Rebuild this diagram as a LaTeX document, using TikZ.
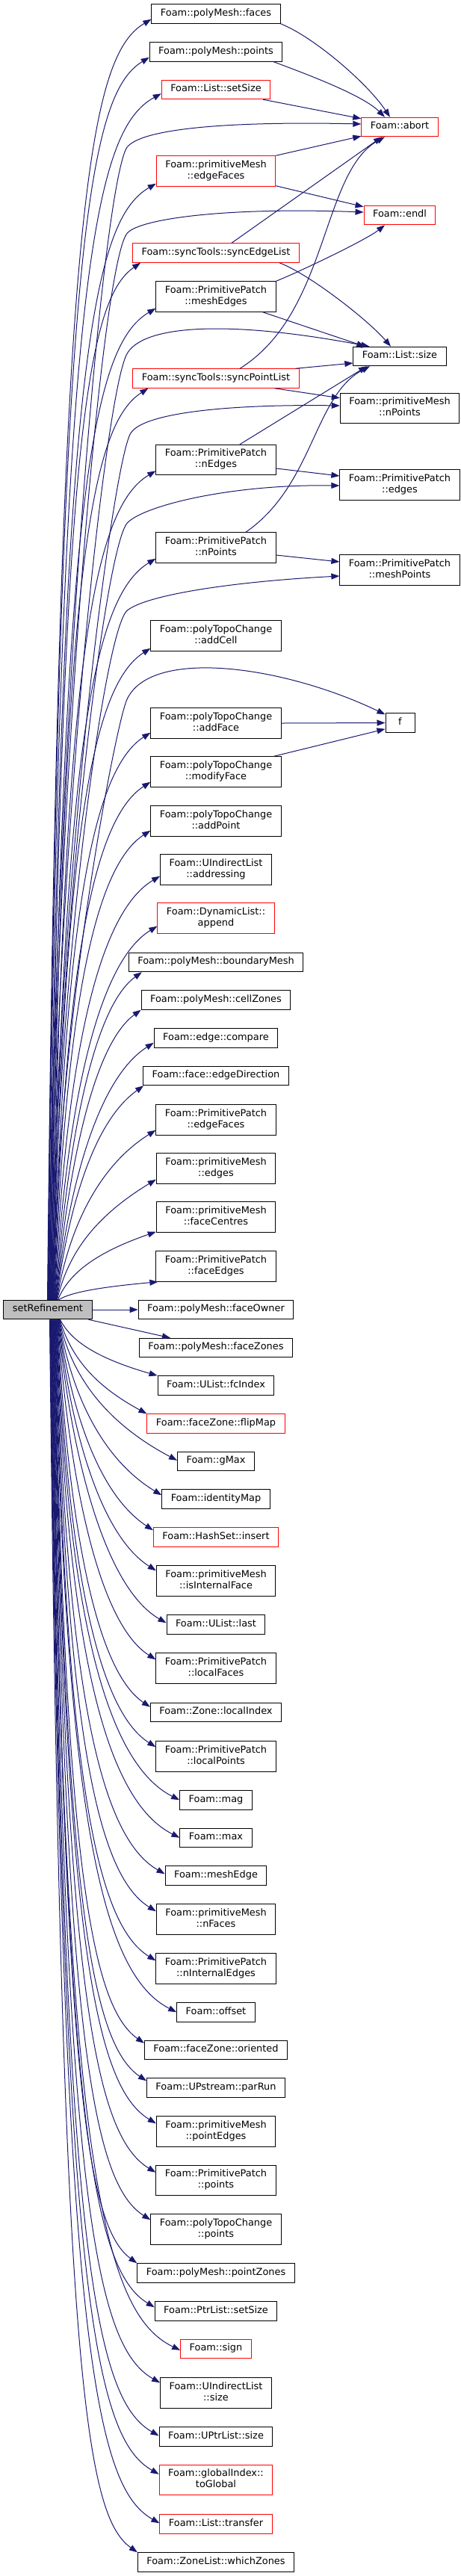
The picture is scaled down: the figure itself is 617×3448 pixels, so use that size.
\documentclass[tikz,border=0pt]{standalone}
\usepackage{fontspec}
\setmainfont{DejaVu Sans}
\usetikzlibrary{arrows.meta,calc}
\definecolor{edgeblue}{HTML}{191970}
\definecolor{srgray}{HTML}{BFBFBF}
\begin{document}
\begin{tikzpicture}[x=1pt,y=-1pt,
  box/.style={draw=black, line width=1pt, fill=white, font=\fontsize{12.9pt}{14.7pt}\selectfont, inner xsep=12pt, inner ysep=1pt, minimum height=25.5pt, align=center, execute at begin node=\strut},
  boxtwo/.style={box, minimum height=40.5pt},
  hot/.style={draw=red},
  edge/.style={draw=edgeblue, line width=1pt, -{Triangle[length=11pt,width=8pt]}}]
\path[fill=white, use as bounding box] (0,0) rectangle (617,3448);

% main node
\node[box, fill=srgray] (sr) at (64,1753) {setRefinement};

% right column
\node[box,hot] (abort) at (535,170) {Foam::abort};
\node[box,hot] (endl) at (535,288) {Foam::endl};
\node[box] (lsize) at (535,477) {Foam::List::size};
\node[boxtwo] (pmnpoints) at (535,546.5) {Foam::primitiveMesh\\\strut ::nPoints};
\node[boxtwo] (ppedges) at (535,649) {Foam::PrimitivePatch\\\strut ::edges};
\node[boxtwo] (meshpoints) at (535,763) {Foam::PrimitivePatch\\\strut ::meshPoints};
\node[box, minimum width=39pt] (f) at (535.5,967.5) {f};

% middle column, above
\node[box] (faces) at (289,18.5) {Foam::polyMesh::faces};
\node[box] (pts) at (289,69.5) {Foam::polyMesh::points};
\node[box,hot] (lsetsize) at (289,120) {Foam::List::setSize};
\node[boxtwo,hot] (pmedgefaces) at (289,229) {Foam::primitiveMesh\\\strut ::edgeFaces};
\node[box,hot] (sel) at (289,338.5) {Foam::syncTools::syncEdgeList};
\node[boxtwo] (meshedges) at (289,397) {Foam::PrimitivePatch\\\strut ::meshEdges};
\node[box,hot] (spl) at (289,506.5) {Foam::syncTools::syncPointList};
\node[boxtwo] (nedges) at (289,615.5) {Foam::PrimitivePatch\\\strut ::nEdges};
\node[boxtwo] (ppnpoints) at (289,733) {Foam::PrimitivePatch\\\strut ::nPoints};
\node[boxtwo] (addcell) at (289,851) {Foam::polyTopoChange\\\strut ::addCell};
\node[boxtwo] (addface) at (289,968) {Foam::polyTopoChange\\\strut ::addFace};
\node[boxtwo] (modifyface) at (289,1033) {Foam::polyTopoChange\\\strut ::modifyFace};
\node[boxtwo] (addpoint) at (289,1099) {Foam::polyTopoChange\\\strut ::addPoint};
\node[boxtwo] (addressing) at (289,1164) {Foam::UIndirectList\\\strut ::addressing};
\node[boxtwo,hot] (append) at (289,1229) {Foam::DynamicList::\\\strut append};
\node[box] (boundarymesh) at (289,1288) {Foam::polyMesh::boundaryMesh};
\node[box] (cellzones) at (289,1338.5) {Foam::polyMesh::cellZones};
\node[box] (compare) at (289,1389.5) {Foam::edge::compare};
\node[box] (edgedir) at (289,1440) {Foam::face::edgeDirection};
\node[boxtwo] (ppedgefaces) at (289,1499) {Foam::PrimitivePatch\\\strut ::edgeFaces};
\node[boxtwo] (pmedges) at (289,1564) {Foam::primitiveMesh\\\strut ::edges};
\node[boxtwo] (facecentres) at (289,1629) {Foam::primitiveMesh\\\strut ::faceCentres};
\node[boxtwo] (faceedges) at (289,1695) {Foam::PrimitivePatch\\\strut ::faceEdges};

% middle column, below
\node[box] (faceowner) at (289,1753) {Foam::polyMesh::faceOwner};
\node[box] (facezones) at (289,1804) {Foam::polyMesh::faceZones};
\node[box] (fcindex) at (289,1854.5) {Foam::UList::fcIndex};
\node[box,hot] (flipmap) at (289,1905.5) {Foam::faceZone::flipMap};
\node[box] (gmax) at (289,1956) {Foam::gMax};
\node[box] (identitymap) at (289,2006.5) {Foam::identityMap};
\node[box,hot] (insert) at (289,2057.5) {Foam::HashSet::insert};
\node[boxtwo] (isinternal) at (289,2116) {Foam::primitiveMesh\\\strut ::isInternalFace};
\node[box] (last) at (289,2174.5) {Foam::UList::last};
\node[boxtwo] (localfaces) at (289,2233) {Foam::PrimitivePatch\\\strut ::localFaces};
\node[box] (localindex) at (289,2292) {Foam::Zone::localIndex};
\node[boxtwo] (localpoints) at (289,2351) {Foam::PrimitivePatch\\\strut ::localPoints};
\node[box] (mag) at (289,2409.5) {Foam::mag};
\node[box] (max) at (289,2460) {Foam::max};
\node[box] (meshedge) at (289,2510.5) {Foam::meshEdge};
\node[boxtwo] (nfaces) at (289,2569) {Foam::primitiveMesh\\\strut ::nFaces};
\node[boxtwo] (ninternal) at (289,2635) {Foam::PrimitivePatch\\\strut ::nInternalEdges};
\node[box] (offset) at (289,2693.5) {Foam::offset};
\node[box] (oriented) at (289,2744) {Foam::faceZone::oriented};
\node[box] (parrun) at (289,2794.5) {Foam::UPstream::parRun};
\node[boxtwo] (pointedges) at (289,2853) {Foam::primitiveMesh\\\strut ::pointEdges};
\node[boxtwo] (pppoints) at (289,2918.5) {Foam::PrimitivePatch\\\strut ::points};
\node[boxtwo] (ptcpoints) at (289,2984) {Foam::polyTopoChange\\\strut ::points};
\node[box] (pointzones) at (289,3042.5) {Foam::polyMesh::pointZones};
\node[box] (ptrsetsize) at (289,3093.5) {Foam::PtrList::setSize};
\node[box,hot] (sign) at (289,3144) {Foam::sign};
\node[boxtwo] (uilsize) at (289,3203) {Foam::UIndirectList\\\strut ::size};
\node[box] (uptrsize) at (289,3261.5) {Foam::UPtrList::size};
\node[boxtwo,hot] (toglobal) at (289,3319.5) {Foam::globalIndex::\\\strut toGlobal};
\node[box,hot] (transfer) at (289,3378.5) {Foam::List::transfer};
\node[box] (whichzones) at (289,3429.5) {Foam::ZoneList::whichZones};

% edges from setRefinement upwards to the middle column
\foreach \nm/\xo/\yo/\sx in {faces/0/6/59, pts/0/6/59.5, lsetsize/0/8/60, pmedgefaces/0/4/61,
  sel/11/0/62, meshedges/0/5/63, spl/21/0/64, nedges/0/6/65, ppnpoints/0/6/66,
  addcell/0/4/66.5, addface/0/8/67, modifyface/0/7/67.5, addpoint/0/8/68,
  addressing/0/12/68.5, append/0/10/69, boundarymesh/18/0/69.5, cellzones/0/0/70,
  compare/0/7/70.5, edgedir/1/0/71, ppedgefaces/0/7/71.5, pmedges/0/6/72,
  facecentres/0/1/73, faceedges/3/0/74}{
  \draw[edge] let \p1=([xshift=\sx pt]sr.north west), \p2=([xshift=\xo pt,yshift=\yo pt]\nm.south west),
    \n1={\y2-(\y1)}, \n2={\x2-(\x1)}, \n3={min(0.6*\n1,250)}, \n4={min(0.3*\n1,50)} in
    (\p1) .. controls (\x1+15pt,\y2-\n3) and (\x2-0.6*\n2,\y2-\n4) .. (\p2);
}

% edges from setRefinement downwards
\draw[edge] (sr.east) -- (faceowner.west);
\draw[edge] ([xshift=-5pt]sr.south east) -- ([xshift=42pt]facezones.north west);
\foreach \nm/\yo/\sx in {fcindex/0/76, flipmap/0/75.5, gmax/12/75, identitymap/8/74.5,
  insert/4/74, isinternal/7/73.5, last/11/73, localfaces/9/72.5, localindex/6/72,
  localpoints/8/71.5, mag/13/71, max/13/70.5, meshedge/11/70, nfaces/10/69.5,
  ninternal/10/69, offset/13/68.5, oriented/4/68, parrun/4/67.5, pointedges/10/67,
  pppoints/10/66.5, ptcpoints/8/66, pointzones/0/65.5, ptrsetsize/8/65, sign/15/64.5,
  uilsize/7/64, uptrsize/12/63.5, toglobal/13/63, transfer/12/62.5, whichzones/0/62}{
  \draw[edge] let \p1=([xshift=\sx pt]sr.south west), \p2=([yshift=-\yo pt]\nm.north west),
    \n1={\y1-(\y2)}, \n2={\x2-(\x1)}, \n3={min(0.6*\n1,250)}, \n4={min(0.3*\n1,50)} in
    (\p1) .. controls (\x1+15pt,\y2+\n3) and (\x2-0.6*\n2,\y2+\n4) .. (\p2);
}

% edges from setRefinement arching over to the right column
\draw[edge] ([xshift=60.5pt]sr.north west) .. controls +(8,-700) and +(-36,81) .. ($(abort.west)+(-315,30)$)
  .. controls +(12,-27) and +(-185,-4) .. ([yshift=4pt]abort.west);
\draw[edge] ([xshift=61.5pt]sr.north west) .. controls +(8,-650) and +(-36,51) .. ($(endl.west)+(-317,25)$)
  .. controls +(14,-20) and +(-185,-7) .. ([yshift=4pt]endl.west);
\draw[edge] ([xshift=62.5pt]sr.north west) .. controls +(8,-600) and +(-30,60) .. ($(lsize.north west)+(-303,11)$)
  .. controls +(20,-40) and +(-190,-36) .. ([xshift=22pt]lsize.north west);
\draw[edge] ([xshift=63.5pt]sr.north west) .. controls +(8,-550) and +(-24,40) .. ($(pmnpoints.west)+(-280,33.5)$)
  .. controls +(18,-30) and +(-130,-2) .. ([yshift=3.5pt]pmnpoints.west);
\draw[edge] ([xshift=64.5pt]sr.north west) .. controls +(8,-500) and +(-30,33) .. ($(ppedges.west)+(-284,51)$)
  .. controls +(20,-22) and +(-150,-2) .. ([yshift=-1pt]ppedges.west);
\draw[edge] ([xshift=65.5pt]sr.north west) .. controls +(8,-450) and +(-30,24) .. ($(meshpoints.west)+(-284,54)$)
  .. controls +(25,-20) and +(-150,8) .. ([yshift=-8pt]meshpoints.west);
\draw[edge] ([xshift=66pt]sr.north west) .. controls +(8,-380) and +(-15,35) .. ($(f.north west)+(-346,-17)$)
  .. controls +(30,-70) and +(-140,-67) .. ([yshift=-2pt]f.north west);

% edges between middle and right column
\draw[edge] (faces.south east) .. controls +(45,18) and +(-30,-45) .. ([xshift=-13pt]abort.north);
\draw[edge] ([xshift=-12pt]pts.south east) .. controls +(40,15) and +(-30,-30) .. ([xshift=-20pt]abort.north);
\draw[edge] ([xshift=-10pt]lsetsize.south east) -- ([yshift=-2pt]abort.north west);
\draw[edge] (pmedgefaces.north east) -- ([yshift=1pt]abort.south west);
\draw[edge] ([yshift=1pt]pmedgefaces.south east) -- ([yshift=-2pt]endl.north west);
\draw[edge] ([xshift=21pt]sel.north) -- ([xshift=-24pt]abort.south);
\draw[edge] ([xshift=-27pt]sel.south east) .. controls +(40,15) and +(-30,-35) .. ([xshift=-12pt]lsize.north);
\draw[edge] (meshedges.north east) .. controls +(30,-12) and +(-25,20) .. ([xshift=-20pt]endl.south);
\draw[edge] ([xshift=-18pt]meshedges.south east) -- ([xshift=16pt]lsize.north west);
\draw[edge] ([xshift=32pt]spl.north) .. controls +(119,-74) and +(-85,47) .. ([xshift=-20pt]abort.south);
\draw[edge] ([xshift=-5pt]spl.north east) -- ([yshift=-9pt]lsize.west);
\draw[edge] ([xshift=-33pt]spl.south east) -- ([yshift=-7pt]pmnpoints.north west);
\draw[edge] ([xshift=32pt]nedges.north) -- ([xshift=-44pt]lsize.south);
\draw[edge] ([yshift=-11.5pt]nedges.east) -- ([yshift=12pt]ppedges.west);
\draw[edge] ([xshift=40pt]ppnpoints.north) .. controls +(91,-63) and +(-75,39) .. ([xshift=-40pt]lsize.south);
\draw[edge] ([yshift=-10pt]ppnpoints.east) -- ([yshift=11pt]meshpoints.west);
\draw[edge] (addface.east) -- (f.west);
\draw[edge] ([xshift=-10pt]modifyface.north east) -- ([yshift=5pt]f.south west);
\end{tikzpicture}
\end{document}
